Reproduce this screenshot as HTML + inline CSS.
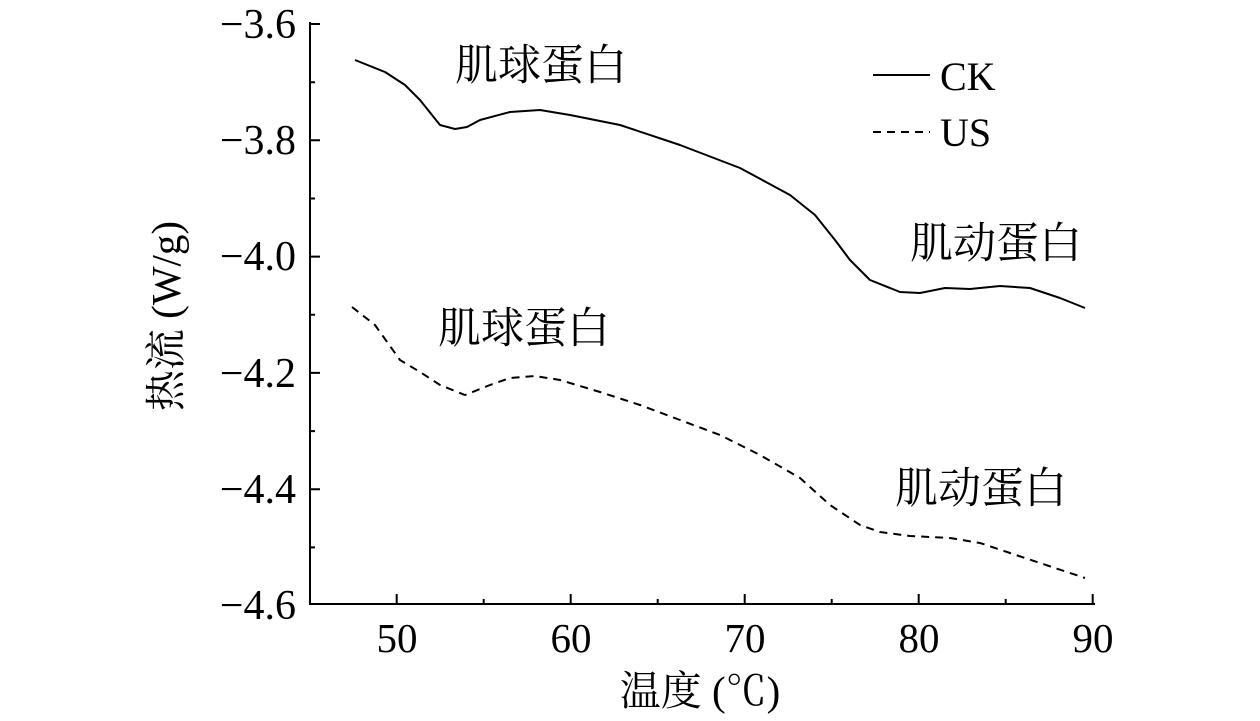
<!DOCTYPE html>
<html><head><meta charset="utf-8"><style>
body{margin:0;background:#fff;}
svg{display:block;font-family:"Liberation Serif","Noto Serif CJK SC",serif;}
</style></head><body>
<svg width="1260" height="721" viewBox="0 0 1260 721">
<g stroke="#000" stroke-width="2" fill="none">
<path d="M310,22 V604 H1095"/>
<path d="M310,24 h10 M310,140.3 h10 M310,256.6 h10 M310,372.9 h10 M310,489.2 h10 M310,82.2 h5 M310,198.5 h5 M310,314.8 h5 M310,431.1 h5 M310,547.4 h5"/>
<path d="M396.7,604 v-10 M570.7,604 v-10 M744.7,604 v-10 M918.7,604 v-10 M1092.7,604 v-10 M483.7,604 v-5 M657.7,604 v-5 M831.7,604 v-5 M1005.7,604 v-5"/>
<path d="M355,60 L385,72 L405,85 L420,100 L440,125 L455,129 L467,127 L480,120 L510,112 L540,110 L570,115 L620,125 L680,145 L740,168 L790,195 L815,215 L835,240 L850,260 L870,280 L900,292 L920,293 L945,288 L970,289 L1000,286 L1030,288 L1060,298 L1085,308" stroke-linejoin="round"/>
<path d="M352,307 L375,325 L400,360 L420,372 L440,385 L465,395 L490,385 L510,378 L535,376 L560,380 L600,392 L640,405 L680,420 L720,435 L760,455 L800,478 L830,505 L860,525 L880,532 L910,536 L950,538 L980,543 L1010,553 L1040,563 L1085,578" stroke-dasharray="8,6"/>
<path d="M873,75 H930"/>
<path d="M873,132 H930" stroke-dasharray="8,6"/>
</g>
<g font-size="42" text-anchor="end">
<text x="296" y="38">−3.6</text>
<text x="296" y="154">−3.8</text>
<text x="296" y="270">−4.0</text>
<text x="296" y="387">−4.2</text>
<text x="296" y="503">−4.4</text>
<text x="296" y="619">−4.6</text>
</g>
<g font-size="41" text-anchor="middle">
<text x="397" y="652">50</text>
<text x="571" y="652">60</text>
<text x="745" y="652">70</text>
<text x="919" y="652">80</text>
<text x="1093" y="652">90</text>
<text x="700" y="705">温度 (℃)</text>
<text transform="translate(180,316) rotate(-90)">热流 (W/g)</text>
</g>
<g font-size="43">
<text x="455" y="80">肌球蛋白</text>
<text x="910" y="258">肌动蛋白</text>
<text x="438" y="343">肌球蛋白</text>
<text x="895" y="503">肌动蛋白</text>
</g>
<g font-size="40">
<text x="940" y="90">CK</text>
<text x="940" y="146">US</text>
</g>
</svg>
</body></html>
